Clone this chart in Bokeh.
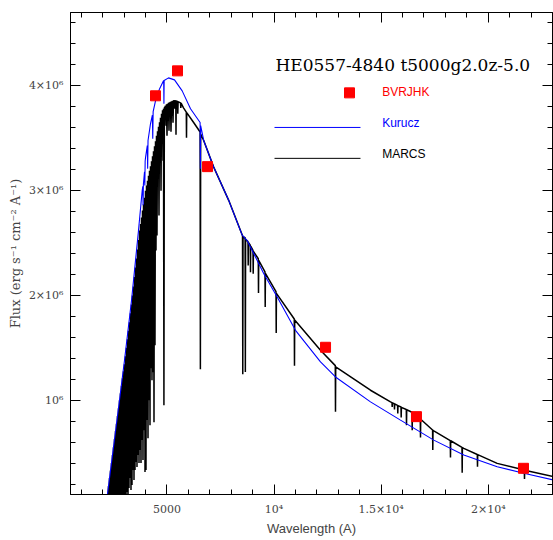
from bokeh.plotting import figure
from bokeh.models import LinearAxis, FixedTicker, Label, Range1d
from bokeh.embed import file_html
from bokeh.resources import INLINE

SERIF = "DejaVu Serif"
SANS = "Liberation Sans"

# ---------------- data (flux in units of 1e6 erg s-1 cm-2 A-1) ----------------
phot_bands = ["B", "V", "R", "J", "H", "K"]
phot_wave = [4468, 5495, 6896, 12405, 16650, 21646]
phot_flux = [3.905, 4.143, 3.229, 1.505, 0.843, 0.350]

kurucz_wave = [2160, 2227, 2787, 3021, 3348, 3674, 3847, 3875, 3889, 3903, 3955, 3970, 3985,
               4001, 4085, 4102, 4119, 4234, 4322, 4340, 4358, 4468, 4655, 4841, 4850, 4861,
               4872, 5075, 5355, 5714, 6102, 6550, 6563, 6576, 6722, 7175, 7890, 8515, 8748,
               9523, 10149, 11003, 12170, 12870, 14504, 15904, 17459, 18859, 20418, 21660, 23047]
kurucz_flux = [0.0, 0.105, 1.0, 1.381, 1.952, 2.619, 3.0, 3.04, 2.86, 3.06, 3.18, 3.048, 3.28,
               3.314, 3.43, 3.21, 3.478, 3.638, 3.72, 3.495, 3.754, 3.857, 3.971, 4.048, 4.049, 3.83,
               4.052, 4.076, 4.057, 3.952, 3.781, 3.65, 3.21, 3.62, 3.476, 3.229, 2.905, 2.575, 2.524,
               2.207, 1.984, 1.667, 1.365, 1.222, 0.984, 0.81, 0.619, 0.476, 0.365, 0.302, 0.238]

marcs_wave = [
    2160, 2227, 2250, 2274, 2297, 2320, 2344, 2367, 2390, 2414, 2437, 2461, 2484, 2507, 2531,
    2554, 2577, 2601, 2624, 2647, 2671, 2694, 2717, 2741, 2764, 2787, 2811, 2834, 2857, 2881,
    2904, 2927, 2951, 2974, 2997, 3021, 3044, 3067, 3091, 3114, 3137, 3161, 3184, 3207, 3231,
    3254, 3277, 3301, 3324, 3347, 3371, 3394, 3417, 3441, 3464, 3488, 3511, 3534, 3558, 3581,
    3604, 3628, 3651, 3674, 3698, 3721, 3744, 3768, 3791, 3814, 3838, 3861, 3884, 3908, 3931,
    3954, 3978, 4001, 4024, 4048, 4071, 4094, 4118, 4141, 4164, 4188, 4211, 4234, 4258, 4281,
    4304, 4328, 4351, 4374, 4398, 4421, 4444, 4468, 4491, 4514, 4538, 4561, 4584, 4608, 4631,
    4655, 4678, 4701, 4725, 4748, 4771, 4795, 4818, 4841, 4861, 4881, 4911, 4935, 4958, 4981,
    5005, 5028, 5051, 5075, 5098, 5121, 5145, 5168, 5191, 5215, 5238, 5261, 5285, 5308, 5355,
    5369, 5383, 5415, 5425, 5435, 5495, 5509, 5523, 5635, 5649, 5663, 5775, 5905, 5915, 5925,
    6256, 6550, 6563, 6576, 6722, 7175, 7890, 8530, 8542, 8554, 8650, 8662, 8674, 8785, 8795,
    8805, 8892, 8902, 8912, 9019, 9029, 9039, 9266, 9276, 9286, 9579, 9589, 9599, 10093, 10103,
    10113, 10946, 10956, 10966, 12170, 12860, 12870, 12880, 14504, 15438, 15507, 15517, 15527,
    15614, 15624, 15634, 15768, 15778, 15788, 15927, 15937, 15947, 16175, 16185, 16195, 16441,
    16451, 16461, 16525, 16828, 16838, 16848, 17402, 17412, 17422, 17459, 18228, 18238, 18248,
    18774, 18784, 18794, 18859, 19489, 19499, 19509, 20418, 21683, 21693, 21703, 23047]
marcs_flux = [
    0.0, 0.105, 0.0, 0.181, 0.0, 0.257, 0.0, 0.329, 0.0, 0.4, 0.0, 0.476, 0.0, 0.552, 0.0,
    0.629, 0.0, 0.705, 0.0, 0.776, 0.0, 0.848, 0.0, 0.924, 0.0, 1.0, 0.0, 1.067, 0.0, 1.138,
    0.0, 1.21, 0.0, 1.276, 0.0, 1.343, 0.0, 1.419, 0.0, 1.5, 0.124, 1.581, 0.0, 1.662, 0.162,
    1.743, 0.257, 1.829, 0.143, 1.914, 0.19, 2.0, 0.333, 2.086, 0.238, 2.176, 0.333, 2.267, 0.41, 2.352,
    0.362, 2.438, 0.476, 2.529, 0.4, 2.619, 0.524, 2.681, 0.4, 2.743, 0.619, 2.81, 0.429, 2.871, 0.714,
    2.933, 0.314, 3.0, 0.333, 3.048, 0.81, 3.095, 0.638, 3.143, 1.0, 3.19, 0.762, 3.233, 1.305, 3.281,
    1.19, 3.329, 1.267, 3.376, 0.79, 3.424, 1.524, 3.471, 2.429, 3.524, 2.571, 3.567, 3.238, 3.61, 2.762,
    3.652, 3.381, 3.695, 3.0, 3.733, 3.476, 3.767, 3.286, 3.781, 0.952, 3.79, 3.8, 3.81, 3.619, 3.824,
    3.524, 3.83, 3.667, 3.838, 3.571, 3.843, 3.743, 3.848, 3.562, 3.852, 3.714, 3.857, 3.648, 3.857, 3.857,
    3.781, 3.857, 3.856, 3.533, 3.855, 3.85, 3.733, 3.848, 3.838, 3.79, 3.835, 3.79, 3.75, 3.505, 3.745,
    3.648, 3.56, 1.295, 3.54, 3.476, 3.229, 2.905, 2.57, 1.248, 2.56, 2.55, 1.27, 2.535, 2.515, 2.286,
    2.505, 2.48, 2.222, 2.47, 2.43, 2.206, 2.42, 2.35, 2.022, 2.335, 2.225, 1.889, 2.21, 2.035, 1.641,
    2.02, 1.775, 1.329, 1.765, 1.476, 1.33, 0.889, 1.318, 1.095, 0.984, 0.977, 0.936, 0.975,
    0.966, 0.911, 0.964, 0.95, 0.873, 0.948, 0.935, 0.835, 0.932, 0.911, 0.762, 0.909, 0.885,
    0.714, 0.882, 0.873, 0.82, 0.645, 0.818, 0.716, 0.524, 0.713, 0.708, 0.615, 0.454, 0.613,
    0.549, 0.308, 0.548, 0.54, 0.482, 0.365, 0.481, 0.397, 0.333, 0.248, 0.332, 0.271]

x_major = [5000, 10000, 15000, 20000]
x_major_labels = ["5000", "10⁴", "1.5×10⁴", "2×10⁴"]
x_minor = list(range(1000, 23001, 1000))
y_major = [1, 2, 3, 4]
y_major_labels = ["10⁶", "2×10⁶", "3×10⁶", "4×10⁶"]
y_minor = [round(0.2 * i, 1) for i in range(1, 24)]

title_text = "HE0557-4840 t5000g2.0z-5.0"
legend_names = ["BVRJHK", "Kurucz", "MARCS"]
legend_colors = ["#ff0000", "#0000ff", "#000000"]

# ---------------- figure ----------------
p = figure(width=553, height=540, x_range=Range1d(500, 23000), y_range=Range1d(0.1, 4.7),
           output_backend="svg", toolbar_location=None,
           x_axis_type=None, y_axis_type=None,
           min_border_left=70, min_border_right=1, min_border_top=12, min_border_bottom=46)
p.grid.visible = False
p.outline_line_color = "black"
p.outline_line_width = 1
p.background_fill_color = "white"
p.border_fill_color = "white"


def style(ax):
    ax.major_tick_in = 10
    ax.major_tick_out = 0
    ax.minor_tick_in = 5
    ax.minor_tick_out = 0
    ax.axis_line_color = "black"
    ax.major_tick_line_color = "black"
    ax.minor_tick_line_color = "black"
    ax.axis_line_width = 1


xt = FixedTicker(ticks=x_major, minor_ticks=x_minor)
yt = FixedTicker(ticks=y_major, minor_ticks=y_minor)

bottom = LinearAxis(ticker=xt, major_label_overrides=dict(zip(x_major, x_major_labels)))
style(bottom)
bottom.major_label_text_font = SERIF
bottom.major_label_text_font_size = "11px"
bottom.major_label_standoff = 8
bottom.axis_label = "Wavelength (A)"
bottom.axis_label_text_font = SANS
bottom.axis_label_text_font_size = "13px"
bottom.axis_label_text_font_style = "normal"
bottom.axis_label_standoff = 2
p.add_layout(bottom, "below")

left = LinearAxis(ticker=yt, major_label_overrides=dict(zip(y_major, y_major_labels)))
style(left)
left.major_label_text_font = SERIF
left.major_label_text_font_size = "11px"
left.major_label_standoff = 7
left.axis_label = "Flux (erg s⁻¹ cm⁻² A⁻¹)"
left.axis_label_text_font = SERIF
left.axis_label_text_font_size = "13px"
left.axis_label_text_font_style = "normal"
left.axis_label_standoff = 3
p.add_layout(left, "left")

top = LinearAxis(ticker=xt, major_label_overrides={v: "" for v in x_major})
style(top)
top.major_label_text_font_size = "0px"
top.major_label_standoff = 0
p.add_layout(top, "above")

right = LinearAxis(ticker=yt, major_label_overrides={v: "" for v in y_major})
style(right)
right.major_label_text_font_size = "0px"
right.major_label_standoff = 0
p.add_layout(right, "right")

# ---------------- data glyphs ----------------
p.line(marcs_wave, marcs_flux, line_color="black", line_width=1.5)
p.line(kurucz_wave, kurucz_flux, line_color="#0000ff", line_width=1.1)
p.scatter(phot_wave, phot_flux, marker="square", size=10, fill_color="#ff0000", line_color="#ff0000")

# ---------------- title + legend ----------------
p.add_layout(Label(x=10069, y=4.197, text=title_text, text_font=SERIF, text_font_size="17px",
                   text_align="left", text_baseline="alphabetic", text_color="black"))
p.scatter([13524], [3.933], marker="square", size=10, fill_color=legend_colors[0], line_color=legend_colors[0])
p.line([10023, 14037], [3.603, 3.603], line_color=legend_colors[1], line_width=1)
p.line([10023, 14037], [3.308, 3.308], line_color=legend_colors[2], line_width=1)
for name, col, yy in zip(legend_names, legend_colors, [3.938, 3.648, 3.346]):
    p.add_layout(Label(x=15050, y=yy, text=name, text_font=SANS, text_font_size="12px",
                       text_align="left", text_baseline="middle", text_color=col))

open("out.html", "w").write(file_html(p, INLINE))
